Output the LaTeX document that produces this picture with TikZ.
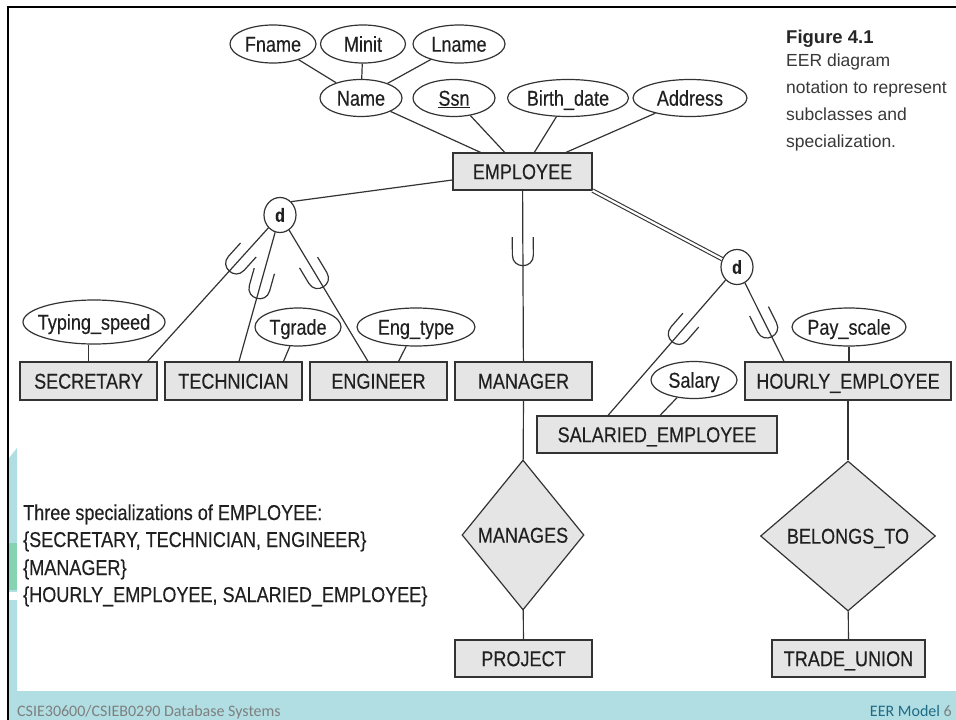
\documentclass[tikz,border=0pt]{standalone}
\usepackage{fontspec}
\setmainfont{Liberation Sans}
\newfontfamily\dfont{Liberation Sans}[FakeStretch=0.84,FakeBold=0.3]
\newfontfamily\ffont{Carlito}
\usetikzlibrary{shapes.geometric,calc}
\definecolor{teal1}{HTML}{B0DEE3}
\definecolor{grn1}{HTML}{86D3B4}
\definecolor{boxfill}{HTML}{E5E5E5}
\definecolor{linec}{HTML}{333333}
\definecolor{txt}{HTML}{202020}
\definecolor{footblue}{HTML}{1F6A85}
\definecolor{footgray}{HTML}{7F7F7F}
\tikzset{
  lbl/.style={font=\dfont\fontsize{21.5}{24}\selectfont, text=txt, text height=15.4pt, text depth=0pt},
  ent/.style={lbl, draw=linec, line width=1.2pt, fill=boxfill, rectangle, inner sep=0pt},
  att/.style={draw=linec, line width=1.2pt, fill=white, ellipse, inner sep=0pt},
  rel/.style={draw=linec, line width=1.2pt, fill=boxfill, diamond, inner sep=0pt},
  dcirc/.style={draw=linec, line width=1.2pt, fill=white, ellipse, inner sep=0pt, minimum width=32pt, minimum height=35pt, text=txt, font=\dfont\bfseries\fontsize{19}{21}\selectfont},
  conn/.style={draw=linec, line width=1.2pt},
  captxt/.style={anchor=base west, inner sep=0pt, font=\fontsize{17.5}{20}\selectfont, text=black!78},
  notetxt/.style={anchor=base west, inner sep=0pt, font=\dfont\fontsize{21.5}{24}\selectfont, text=txt},
}
\newcommand{\usub}[3]{%
  \path let \p1=(#1), \p2=(#2), \n1={atan2(\y2-\y1,\x2-\x1)} in \pgfextra{\xdef\uang{\n1}};
  \begin{scope}[shift={($(#1)!#3!(#2)$)}, rotate=\uang]
    \draw[conn] (-18,-10.5) -- (0,-10.5) .. controls (14,-10.5) and (14,10.5) .. (0,10.5) -- (-18,10.5);
  \end{scope}}
\begin{document}
\begin{tikzpicture}[x=1pt,y=-1pt]
\useasboundingbox (0,0) rectangle (956,720);
\fill[white] (0,0) rectangle (956,720);
% slide decoration
\fill[teal1] (9,691) rectangle (956,720);
\fill[teal1] (9,458) -- (17,448) -- (17,691) -- (9,691) -- cycle;
\fill[grn1] (9,543) rectangle (17,590);
\fill[white] (9,592) rectangle (17,600);
\draw[line width=2.5pt, black] (8,720) -- (8,7) -- (956,7);
% attributes top
\node[att, minimum width=86pt, minimum height=38pt, label={[lbl]center:Fname}] (fn) at (273,44) {};
\node[att, minimum width=85pt, minimum height=38pt, label={[lbl]center:Minit}] (mi) at (363,44) {};
\node[att, minimum width=92pt, minimum height=38pt, label={[lbl]center:Lname}] (ln) at (459,44) {};
\node[att, minimum width=82pt, minimum height=37pt, label={[lbl]center:Name}] (nm) at (361,98) {};
\node[att, minimum width=82pt, minimum height=37pt, label={[lbl]center:\underline{Ssn}}] (ssn) at (454,98) {};
\node[att, minimum width=121pt, minimum height=37pt, label={[lbl]center:Birth\_date}] (bd) at (568,98) {};
\node[att, minimum width=114pt, minimum height=37pt, label={[lbl]center:Address}] (adr) at (690,98) {};
% entities
\node[ent, minimum width=139pt, minimum height=37pt] (emp) at (522.5,171.5) {EMPLOYEE};
\node[ent, minimum width=137pt, minimum height=38pt] (sec) at (88.5,381) {SECRETARY};
\node[ent, minimum width=137pt, minimum height=38pt] (tech) at (233.5,381) {TECHNICIAN};
\node[ent, minimum width=137pt, minimum height=38pt] (eng) at (378.5,381) {ENGINEER};
\node[ent, minimum width=137pt, minimum height=38pt] (man) at (523.5,381) {MANAGER};
\node[ent, minimum width=206pt, minimum height=38pt] (hourly) at (848,381) {HOURLY\_EMPLOYEE};
\node[ent, minimum width=240pt, minimum height=37pt] (sal) at (657,434.5) {SALARIED\_EMPLOYEE};
\node[ent, minimum width=137pt, minimum height=37pt] (proj) at (523.5,658.5) {PROJECT};
\node[ent, minimum width=153pt, minimum height=37pt] (trade) at (848.5,658.5) {TRADE\_UNION};
% subclass attributes
\node[att, minimum width=142pt, minimum height=44pt, label={[lbl]center:Typing\_speed}] (typ) at (94,322) {};
\node[att, minimum width=86pt, minimum height=38pt, label={[lbl]center:Tgrade}] (tg) at (298,327) {};
\node[att, minimum width=118pt, minimum height=38pt, label={[lbl]center:Eng\_type}] (et) at (416,327) {};
\node[att, minimum width=114pt, minimum height=38pt, label={[lbl]center:Pay\_scale}] (pay) at (849,327) {};
\node[att, minimum width=86pt, minimum height=37pt, label={[lbl]center:Salary}] (sly) at (694,380) {};
% relationships
\node[rel, minimum width=122pt, minimum height=150pt, label={[lbl]center:MANAGES}] (mgs) at (523,535) {};
\node[rel, minimum width=175pt, minimum height=150pt, label={[lbl]center:BELONGS\_TO}] (bel) at (848,536) {};
% specialization circles
\node[dcirc] (d1) at (280,215) {d};
\node[dcirc] (d2) at (737,267) {d};
% connectors
\draw[conn] (fn) -- (nm);
\draw[conn] (mi) -- (nm);
\draw[conn] (ln) -- (nm);
\draw[conn] (nm) -- (emp);
\draw[conn] (ssn) -- (emp);
\draw[conn] (bd) -- (emp);
\draw[conn] (adr) -- (emp);
\draw[conn] ([yshift=-8.5pt]emp.west) -- (d1.50);
\coordinate (secT) at ([xshift=-10pt]sec.north east);
\coordinate (techT) at ([xshift=5.5pt]tech.north);
\coordinate (engT) at ([xshift=-10.5pt]eng.north);
\draw[conn] (d1) -- (secT);
\draw[conn] (d1) -- (techT);
\draw[conn] (d1) -- (engT);
\draw[conn] (emp) -- (man);
\draw[conn] (man) -- (mgs);
\draw[conn] (mgs) -- (proj);
\draw[draw=linec, line width=1.1pt, double=white, double distance=2.2pt] (emp.south east) -- (d2);
\coordinate (salT) at ([xshift=-49pt]sal.north);
\coordinate (hourT) at ([xshift=-64pt]hourly.north);
\draw[conn] (d2) -- (salT);
\draw[conn] (d2) -- (hourT);
\draw[conn] (hourly) -- (bel);
\draw[conn] (bel) -- (trade);
\draw[conn] (sec.north) -- (sec.north |- typ.south);
\draw[conn] (tg) -- ([xshift=50pt]tech.north);
\draw[conn] (et) -- ([xshift=20pt]eng.north);
\draw[conn] (pay) -- (pay.south |- hourly.north);
\draw[conn] (sly) -- ([xshift=3pt]sal.north);
% subset marks
\usub{d1}{secT}{0.33}
\usub{d1}{techT}{0.50}
\usub{d1}{engT}{0.43}
\usub{emp.south}{man.north}{0.378}
\usub{d2}{salT}{0.45}
\usub{d2}{hourT}{0.64}
% caption
\node[anchor=base west, inner sep=0pt, font=\bfseries\fontsize{18.5}{20}\selectfont, text=black!85] (fig) at (786,43) {Figure 4.1};
\node[captxt] (c1) at (786,66) {EER diagram};
\node[captxt] (c2) at (786,93) {notation to represent};
\node[captxt] (c3) at (786,120) {subclasses and};
\node[captxt] (c4) at (786,147) {specialization.};
% note
\node[notetxt] (n1) at (23,520) {Three specializations of EMPLOYEE:};
\node[notetxt] (n2) at (23,547) {\{SECRETARY, TECHNICIAN, ENGINEER\}};
\node[notetxt] (n3) at (23,575) {\{MANAGER\}};
\node[notetxt] (n4) at (23,602) {\{HOURLY\_EMPLOYEE, SALARIED\_EMPLOYEE\}};
% footer
\node[anchor=base west, inner sep=0pt, font=\ffont\fontsize{16}{18}\selectfont, text=footgray] (f1) at (17,716) {CSIE30600/CSIEB0290 Database Systems};
\node[anchor=base east, inner sep=0pt, font=\ffont\fontsize{16}{18}\selectfont] (f2) at (952,716) {\textcolor{footblue}{EER Model} \textcolor{footgray}{6}};
\end{tikzpicture}
\end{document}
